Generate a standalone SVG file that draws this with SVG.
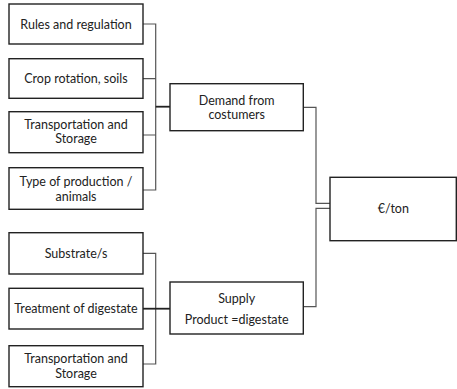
<svg xmlns="http://www.w3.org/2000/svg" width="457" height="389" viewBox="0 0 457 389">
<style>
.box{fill:#fff;stroke:#222;stroke-width:1.4}
.t{font-family:Lato,"Liberation Sans",sans-serif;font-size:12.5px;fill:#222;text-anchor:middle}
.c{fill:none;stroke:#555;stroke-width:1.2}
.ct{fill:none;stroke:#222;stroke-width:1.8}
</style>
<rect width="457" height="389" fill="#fff"/>
<g id="connectors">
<path class="c" d="M143 24H155.7V190H143M143 78.7H155.7M143 135H155.7"/>
<path class="ct" d="M155.7 106.7H170"/>
<path class="c" d="M143 253.3H155.7V364H143"/>
<path class="ct" d="M143 308.7H170"/>
<path class="c" d="M303.3 107.3H316V203.3H330M303.3 306.7H316V208.3H330"/>
</g>
<g id="n1"><rect class="box" x="9" y="4" width="134" height="40"/><text class="t" x="76" y="28.5">Rules and regulation</text></g>
<g id="n2"><rect class="box" x="9" y="58.7" width="134" height="39.6"/><text class="t" x="76" y="83">Crop rotation, soils</text></g>
<g id="n3"><rect class="box" x="9" y="111.7" width="134" height="41"/><text class="t" x="76" y="128.5">Transportation and</text><text class="t" x="76" y="142.5">Storage</text></g>
<g id="n4"><rect class="box" x="9" y="167.7" width="134" height="41.6"/><text class="t" x="76" y="185.5">Type of production /</text><text class="t" x="76" y="200.5">animals</text></g>
<g id="n5"><rect class="box" x="9" y="232.7" width="134" height="41.3"/><text class="t" x="76" y="257.5">Substrate/s</text></g>
<g id="n6"><rect class="box" x="9" y="288.3" width="134" height="40.7"/><text class="t" x="76" y="313">Treatment of digestate</text></g>
<g id="n7"><rect class="box" x="9" y="345.7" width="134" height="41"/><text class="t" x="76" y="362.5">Transportation and</text><text class="t" x="76" y="377.5">Storage</text></g>
<g id="demand"><rect class="box" x="170" y="83.7" width="133.3" height="47"/><text class="t" x="236.7" y="104.5">Demand from</text><text class="t" x="236.7" y="118.5">costumers</text></g>
<g id="supply"><rect class="box" x="170" y="282" width="133.3" height="52"/><text class="t" x="236.7" y="302.5">Supply</text><text class="t" x="236.7" y="323.5">Product =digestate</text></g>
<g id="price"><rect class="box" x="330" y="177.3" width="126.3" height="63.4"/><text class="t" x="393.3" y="212.5">€/ton</text></g>
</svg>
